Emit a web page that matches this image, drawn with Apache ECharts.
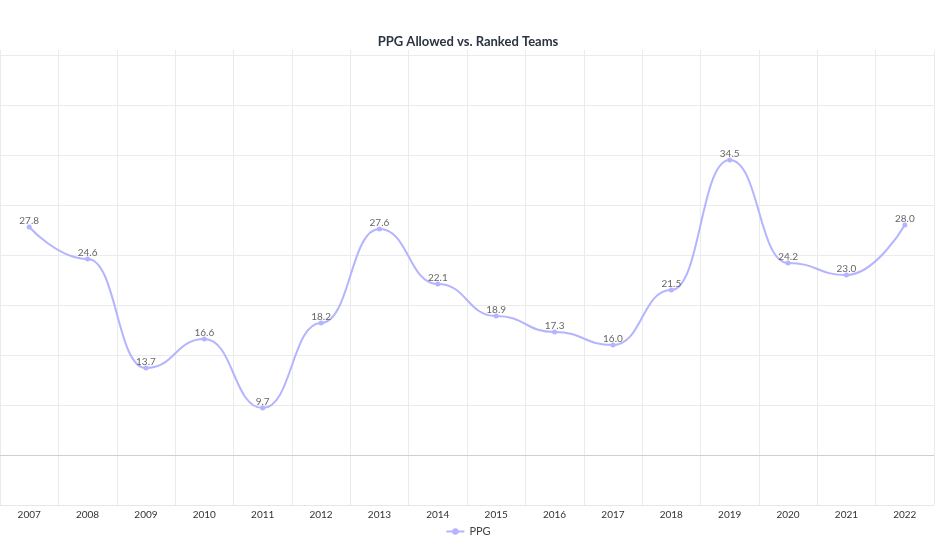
<!DOCTYPE html>
<html>
<head>
<meta charset="utf-8">
<script src="https://cdn.jsdelivr.net/npm/echarts@6/dist/echarts.min.js"></script>
<style>html,body{margin:0;padding:0;background:#fff}#c{width:936px;height:558px}</style>
</head>
<body>
<div id="c"></div>
<script>
const years = ['2007','2008','2009','2010','2011','2012','2013','2014','2015','2016','2017','2018','2019','2020','2021','2022'];
const ppg = [27.8, 24.6, 13.7, 16.6, 9.7, 18.2, 27.6, 22.1, 18.9, 17.3, 16.0, 21.5, 34.5, 24.2, 23.0, 28.0];

const chart = echarts.init(document.getElementById('c'));
chart.setOption({
  animation: false,
  title: {
    text: 'PPG Allowed vs. Ranked Teams',
    left: 'center', top: 30,
    textStyle: { fontFamily: 'Lato', fontSize: 13, fontWeight: 'bold', color: '#2b3440' }
  },
  legend: {
    bottom: 16, left: 'center',
    itemWidth: 18, itemHeight: 8,
    textStyle: { fontFamily: 'Lato', fontSize: 11, color: '#444' },
    data: ['PPG']
  },
  grid: { left: 0, right: 2, top: 50, bottom: 53, containLabel: false },
  xAxis: {
    type: 'category', data: years, boundaryGap: true,
    axisLine: { lineStyle: { color: '#e6e6e6' } },
    axisTick: { alignWithLabel: true, length: 3, lineStyle: { color: '#bbb' } },
    axisLabel: { fontFamily: 'Lato', fontSize: 10, color: '#333', margin: 5 },
    splitLine: { show: true, lineStyle: { color: '#ebebeb' } }
  },
  yAxis: {
    type: 'value', min: 0, max: 45.5, interval: 5,
    axisLabel: { show: false }, axisLine: { show: false }, axisTick: { show: false },
    splitLine: { show: true, showMaxLine: false, showMinLine: false, lineStyle: { color: '#ebebeb' } }
  },
  series: [{
    name: 'PPG', type: 'line', smooth: 0.5, smoothMonotone: 'x', data: ppg,
    symbol: 'circle', symbolSize: 5,
    itemStyle: { color: '#b4b4ff' },
    lineStyle: { color: '#b4b4ff', width: 2 },
    label: { show: true, position: 'top', distance: -1, formatter: p => p.value.toFixed(1),
      fontFamily: 'Lato', fontSize: 10, color: '#666' },
    markLine: { silent: true, symbol: 'none', label: { show: false },
      lineStyle: { color: '#cfcfcf', type: 'solid', width: 1 }, data: [{ yAxis: 5 }] }
  }]
});
</script>
</body>
</html>
